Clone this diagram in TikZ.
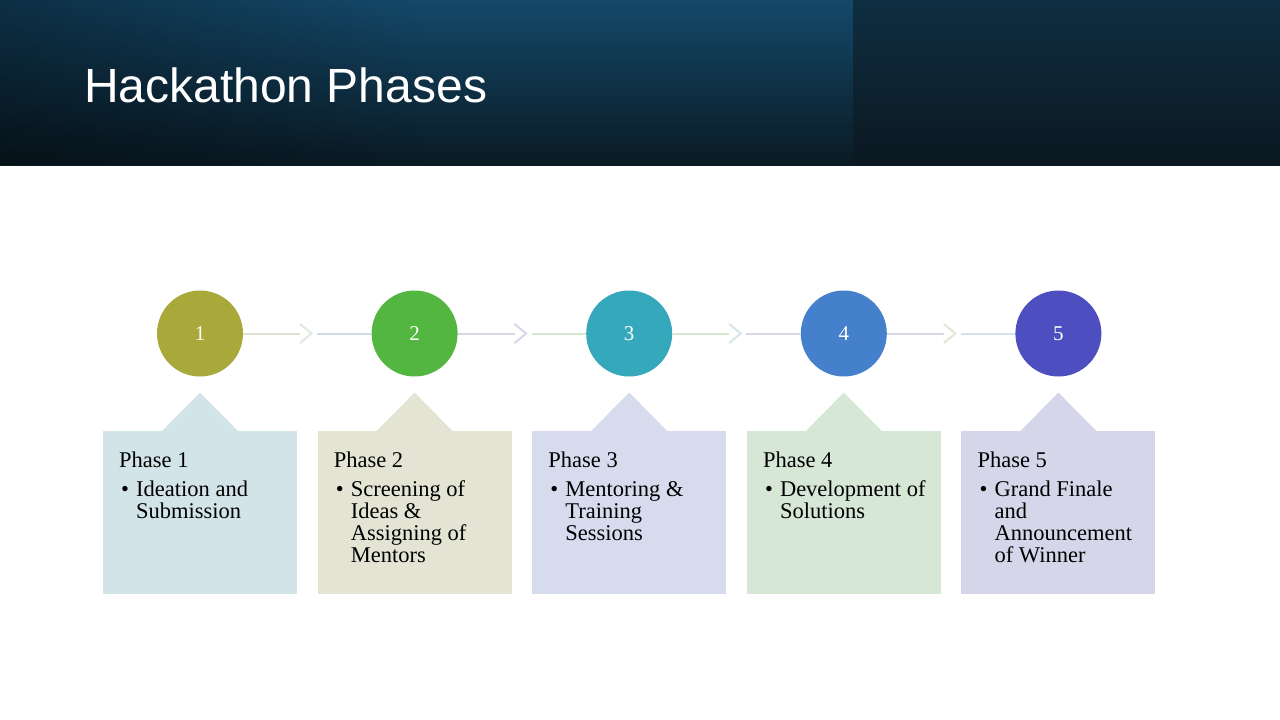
\documentclass[tikz,border=0pt]{standalone}
\usepackage{fontspec}
\setmainfont{Liberation Serif}
\newfontfamily\titlefont{Liberation Sans}
\usetikzlibrary{fadings}
\definecolor{hdrtop}{HTML}{14496A}
\definecolor{hdrbot}{HTML}{0A1A24}
\definecolor{hdrrtop}{HTML}{0F2E42}
\definecolor{hdrrbot}{HTML}{0B1820}
\definecolor{cA}{HTML}{A9A83A}
\definecolor{cB}{HTML}{52B640}
\definecolor{cC}{HTML}{35A8BB}
\definecolor{cD}{HTML}{4580CC}
\definecolor{cE}{HTML}{4D4FC0}
\definecolor{bA}{HTML}{D3E4E8}
\definecolor{bB}{HTML}{E4E4D4}
\definecolor{bC}{HTML}{D6DCEE}
\definecolor{bD}{HTML}{D6E7D6}
\definecolor{bE}{HTML}{D6D6EA}
\definecolor{lnBeige}{HTML}{DFE2CF}
\definecolor{lnBlue}{HTML}{D2D9EA}
\definecolor{lnLav}{HTML}{D5D8EA}
\definecolor{lnGreen}{HTML}{D5E8CF}
\definecolor{lnSky}{HTML}{D4E2EA}
\definecolor{chGreen}{HTML}{E0E9E0}
\definecolor{chSky}{HTML}{D8E6EA}
\definecolor{chBeige}{HTML}{E6E6D6}
\begin{document}
\begin{tikzpicture}[x=1pt,y=-1pt,
  phasecircle/.style={circle, minimum size=86pt, inner sep=0pt, text=white,
    font=\fontsize{21}{24}\selectfont},
  phasebox/.style={rectangle, minimum width=194pt, minimum height=163pt, inner sep=0pt},
  phtitle/.style={anchor=base west, inner sep=0pt, font=\fontsize{22.5}{22}\selectfont},
  bulletmark/.style={anchor=base west, inner sep=0pt, font=\fontsize{22.5}{22}\selectfont},
  bullettext/.style={anchor=base west, inner sep=0pt, align=left, font=\fontsize{22.5}{22}\selectfont},
  connline/.style={line width=2pt},
  chev/.style={line width=2pt}
]
\useasboundingbox (0,0) rectangle (1280,720);
\fill[white] (0,0) rectangle (1280,720);
% header
\shade[top color=hdrtop, bottom color=hdrbot] (0,0) rectangle (853,165);
\fill[black, opacity=0.35, path fading=east] (0,0) rectangle (420,165);
\shade[top color=hdrrtop, bottom color=hdrrbot] (853,0) rectangle (1280,165);
\node[anchor=base west, inner sep=0pt, text=white,
  font=\titlefont\fontsize{48}{55}\selectfont] (title) at (84,102) {Hackathon Phases};

% circles
\foreach \i/\cx/\col in {1/200/cA, 2/414.6/cB, 3/629.2/cC, 4/843.8/cD, 5/1058.4/cE}{
  \node[phasecircle, fill=\col] (c\i) at (\cx,333.5) {\i};
}

% connectors
\foreach \i/\j/\cx/\la/\ch/\lb in {1/2/200/lnBeige/chGreen/lnBlue,
    2/3/414.6/lnLav/lnLav/lnGreen,
    3/4/629.2/lnGreen/chSky/lnLav,
    4/5/843.8/lnLav/chBeige/lnSky}{
  \coordinate (a\i) at (\cx+100,333.5);
  \coordinate (t\i) at (\cx+111.5,333.5);
  \coordinate (b\i) at (\cx+117,333.5);
  \draw[connline, draw=\la] (c\i.east) -- (a\i);
  \draw[chev, draw=\ch] ([shift={(-11.5,-9.5)}]t\i) -- (t\i) -- ([shift={(-11.5,9.5)}]t\i);
  \draw[connline, draw=\lb] (b\i) -- (c\j.west);
}

% boxes
\foreach \i/\cx/\col in {1/200/bA, 2/414.6/bB, 3/629.2/bC, 4/843.8/bD, 5/1058.4/bE}{
  \node[phasebox, fill=\col] (box\i) at (\cx,512.75) {};
  \fill[\col] ([xshift=-38pt]box\i.north) -- ([yshift=38.5pt]box\i.north) -- ([xshift=38pt]box\i.north) -- cycle;
}

% texts (anchor at the baseline of the last line)
\foreach \i/\cx/\n/\txt in {1/200/2/{Ideation and\\Submission},
    2/414.6/4/{Screening of\\Ideas \&\\Assigning of\\Mentors},
    3/629.2/3/{Mentoring \&\\Training\\Sessions},
    4/843.8/2/{Development of\\Solutions},
    5/1058.4/4/{Grand Finale\\and\\Announcement\\of Winner}}{
  \node[phtitle] (h\i) at (\cx-81,467) {Phase \i};
  \node[bulletmark] (m\i) at (\cx-79,496) {\textbullet};
  \node[bullettext] (d\i) at (\cx-64,{496+22*(\n-1)}) {\txt};
}
\end{tikzpicture}
\end{document}
